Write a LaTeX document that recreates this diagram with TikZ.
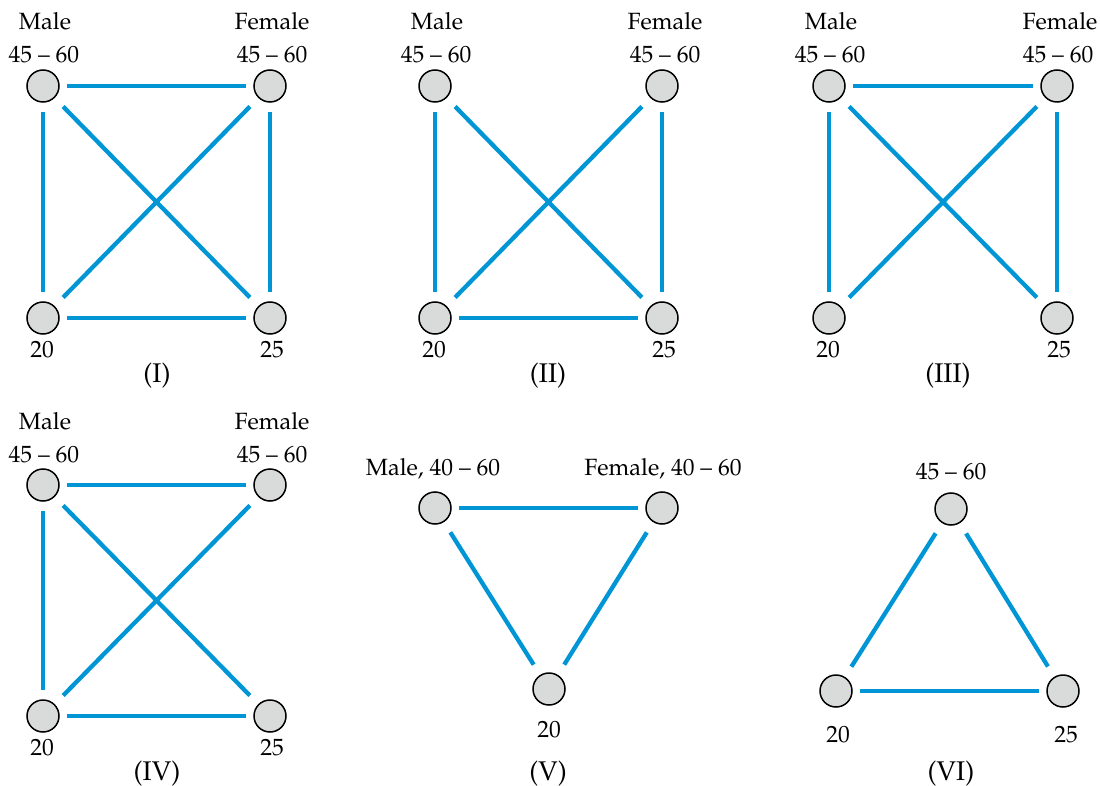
\documentclass[tikz,border=0pt]{standalone}
\usepackage[T1]{fontenc}
\usepackage{mathpazo}
\definecolor{edgeblue}{HTML}{0096D6}
\definecolor{nodegray}{HTML}{D9DADA}
\tikzset{
  vert/.style={circle, draw=black, line width=1.5pt, fill=nodegray, minimum size=32pt, inner sep=0pt},
  lab/.style={anchor=base, inner sep=0pt, font=\fontsize{23.5}{27}\selectfont},
  plab/.style={anchor=base, inner sep=0pt, font=\fontsize{27}{31}\selectfont},
  edge/.style={draw=edgeblue, line width=4.3pt, shorten >=7pt, shorten <=7pt},
  vedge/.style={edge, shorten >=9pt, shorten <=9pt},
  dedge/.style={edge, shorten >=12pt, shorten <=12pt}
}
\begin{document}
\begin{tikzpicture}[x=1pt,y=-1pt]
\useasboundingbox (0,0) rectangle (1100,786);
% ---------- Panel I ----------
\node[vert] (a1) at (43,86) {};
\node[vert] (b1) at (270,86) {};
\node[vert] (c1) at (43,318) {};
\node[vert] (d1) at (270,318) {};
\node[lab] (a1m) at (45,30) {Male};
\node[lab] (a1r) at (44,63) {45 -- 60};
\node[lab] (b1f) at (272,30) {Female};
\node[lab] (b1r) at (272,63) {45 -- 60};
\node[lab] (c1l) at (42,357) {20};
\node[lab] (d1l) at (272,357) {25};
\node[plab] (p1) at (157,382) {(I)};
\draw[edge] (a1) -- (b1);
\draw[edge] (c1) -- (d1);
\draw[vedge] (a1) -- (c1);
\draw[vedge] (b1) -- (d1);
\draw[dedge] (a1) -- (d1);
\draw[dedge] (b1) -- (c1);
% ---------- Panel II ----------
\node[vert] (a2) at (435,86) {};
\node[vert] (b2) at (662,86) {};
\node[vert] (c2) at (435,318) {};
\node[vert] (d2) at (662,318) {};
\node[lab] (a2m) at (437,30) {Male};
\node[lab] (a2r) at (436,63) {45 -- 60};
\node[lab] (b2f) at (665,30) {Female};
\node[lab] (b2r) at (665,63) {45 -- 60};
\node[lab] (c2l) at (434,357) {20};
\node[lab] (d2l) at (664,357) {25};
\node[plab] (p2) at (548,382) {(II)};
\draw[edge] (c2) -- (d2);
\draw[vedge] (a2) -- (c2);
\draw[vedge] (b2) -- (d2);
\draw[dedge] (a2) -- (d2);
\draw[dedge] (b2) -- (c2);
% ---------- Panel III ----------
\node[vert] (a3) at (829,86) {};
\node[vert] (b3) at (1057,86) {};
\node[vert] (c3) at (829,318) {};
\node[vert] (d3) at (1057,318) {};
\node[lab] (a3m) at (831,30) {Male};
\node[lab] (a3r) at (830,63) {45 -- 60};
\node[lab] (b3f) at (1060,30) {Female};
\node[lab] (b3r) at (1058,63) {45 -- 60};
\node[lab] (c3l) at (828,357) {20};
\node[lab] (d3l) at (1059,357) {25};
\node[plab] (p3) at (948,382) {(III)};
\draw[edge] (a3) -- (b3);
\draw[vedge] (a3) -- (c3);
\draw[vedge] (b3) -- (d3);
\draw[dedge] (a3) -- (d3);
\draw[dedge] (b3) -- (c3);
% ---------- Panel IV ----------
\node[vert] (a4) at (43,485) {};
\node[vert] (b4) at (270,485) {};
\node[vert] (c4) at (43,716) {};
\node[vert] (d4) at (270,716) {};
\node[lab] (a4m) at (45,429) {Male};
\node[lab] (a4r) at (44,462) {45 -- 60};
\node[lab] (b4f) at (272,429) {Female};
\node[lab] (b4r) at (272,462) {45 -- 60};
\node[lab] (c4l) at (42,755) {20};
\node[lab] (d4l) at (272,755) {25};
\node[plab] (p4) at (157,780) {(IV)};
\draw[edge] (a4) -- (b4);
\draw[edge] (c4) -- (d4);
\draw[vedge] (a4) -- (c4);
\draw[dedge] (a4) -- (d4);
\draw[dedge] (b4) -- (c4);
% ---------- Panel V ----------
\node[vert] (a5) at (435,508) {};
\node[vert] (b5) at (662,508) {};
\node[vert] (c5) at (549,689) {};
\node[lab] (a5l) at (433,475) {Male, 40 -- 60};
\node[lab] (b5l) at (663,475) {Female, 40 -- 60};
\node[lab] (c5l) at (549,737) {20};
\node[plab] (p5) at (548,780) {(V)};
\draw[edge] (a5) -- (b5);
\draw[dedge] (a5) -- (c5);
\draw[dedge] (b5) -- (c5);
% ---------- Panel VI ----------
\node[vert] (a6) at (951,509) {};
\node[vert] (c6) at (836,691) {};
\node[vert] (d6) at (1063,691) {};
\node[lab] (a6l) at (951,479) {45 -- 60};
\node[lab] (c6l) at (838,742) {20};
\node[lab] (d6l) at (1066,742) {25};
\node[plab] (p6) at (951,780) {(VI)};
\draw[edge] (c6) -- (d6);
\draw[dedge] (a6) -- (c6);
\draw[dedge] (a6) -- (d6);
\end{tikzpicture}
\end{document}
